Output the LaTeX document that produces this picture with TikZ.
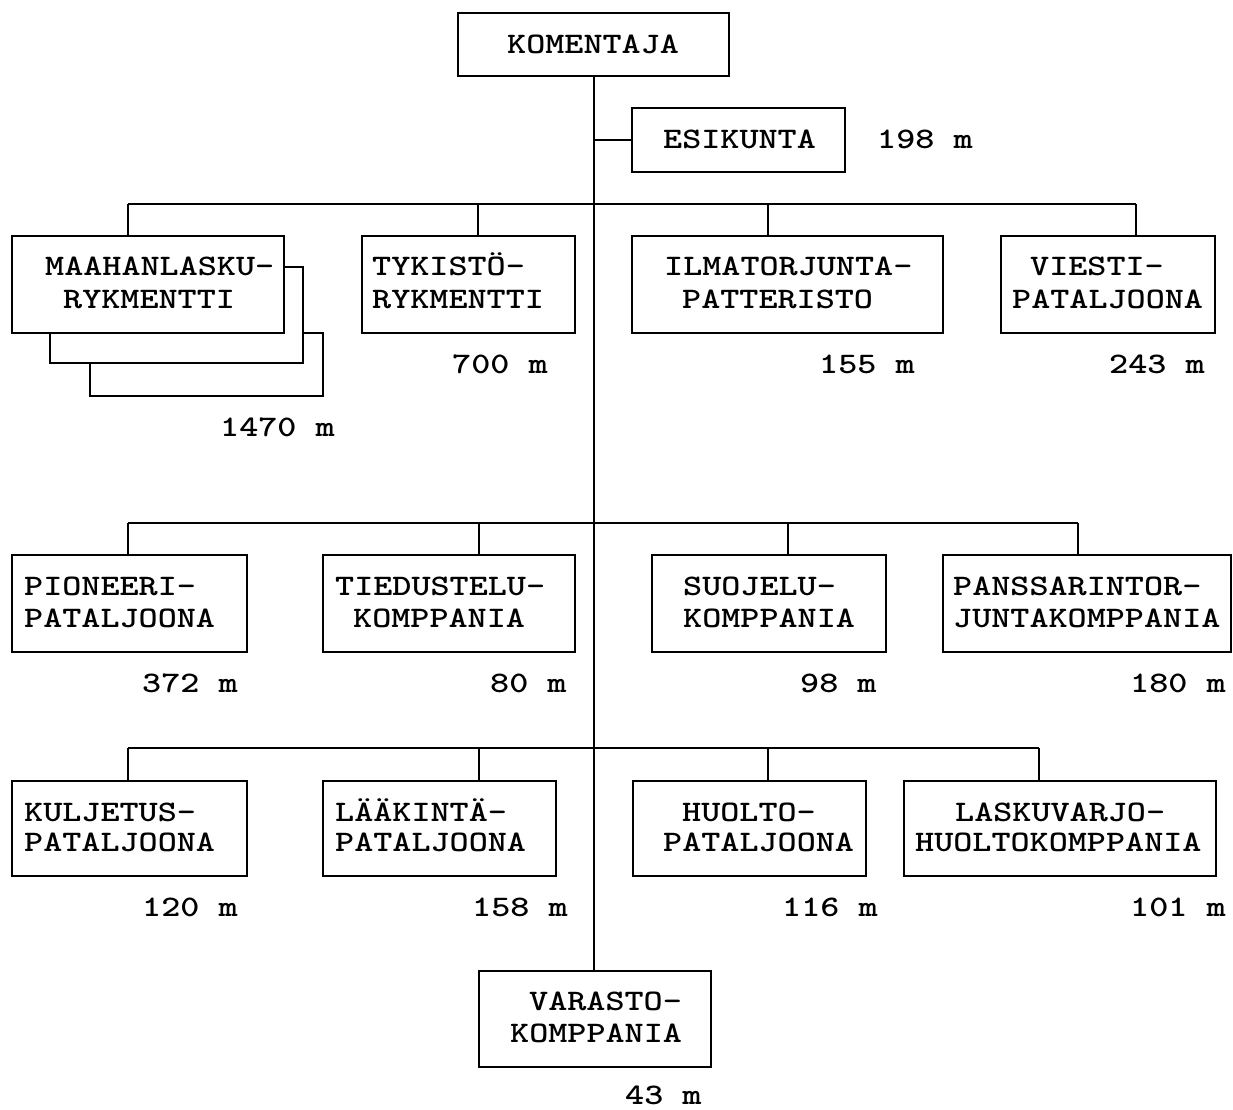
\documentclass[tikz,border=0pt]{standalone}
\usepackage{fontspec}
\newcommand\twfont{\ttfamily\bfseries\fontsize{29.8}{33}\selectfont}
\newcommand\T[1]{\scalebox{1.22}[1]{#1}}
\begin{document}
\begin{tikzpicture}[x=1pt,y=-1pt,
  bx/.style={draw, line width=2pt, fill=white, inner sep=0pt},
  ln/.style={line width=2pt},
  tx/.style={font=\twfont, anchor=base west, inner sep=0pt}]
\useasboundingbox (0,0) rectangle (1233,1109);
% ---- branch points ----
\coordinate (d11) at (128,204);
\coordinate (d12) at (478,204);
\coordinate (d13) at (768,204);
\coordinate (d14) at (1136,204);
\coordinate (d21) at (128,523);
\coordinate (d22) at (479,523);
\coordinate (d23) at (788,523);
\coordinate (d24) at (1078,523);
\coordinate (d31) at (128,748);
\coordinate (d32) at (479,748);
\coordinate (d33) at (768,748);
\coordinate (d34) at (1039,748);
% ---- boxes ----
\node[bx, minimum width=271pt, minimum height=63pt] (kom) at (593.5,44.5) {};
\node[bx, minimum width=213pt, minimum height=64pt] (esi) at (738.5,140) {};
\node[bx, minimum width=233pt, minimum height=63pt] (maa2) at (206.5,364.5) {};
\node[bx, minimum width=253pt, minimum height=96pt] (maa1) at (176.5,315) {};
\node[bx, minimum width=272pt, minimum height=97pt] (maa) at (148,284.5) {};
\node[bx, minimum width=213pt, minimum height=97pt] (tyk) at (468.5,284.5) {};
\node[bx, minimum width=311pt, minimum height=97pt] (ilm) at (787.5,284.5) {};
\node[bx, minimum width=214pt, minimum height=97pt] (vie) at (1108,284.5) {};
\node[bx, minimum width=235pt, minimum height=97pt] (pio) at (129.5,603.5) {};
\node[bx, minimum width=252pt, minimum height=97pt] (tie) at (449,603.5) {};
\node[bx, minimum width=234pt, minimum height=97pt] (suo) at (769,603.5) {};
\node[bx, minimum width=288pt, minimum height=97pt] (pan) at (1087,603.5) {};
\node[bx, minimum width=235pt, minimum height=95pt] (kul) at (129.5,828.5) {};
\node[bx, minimum width=233pt, minimum height=95pt] (laa) at (439.5,828.5) {};
\node[bx, minimum width=233pt, minimum height=95pt] (huo) at (749.5,828.5) {};
\node[bx, minimum width=312pt, minimum height=95pt] (las) at (1060,828.5) {};
\node[bx, minimum width=232pt, minimum height=96pt] (var) at (595,1019) {};
% ---- connectors ----
\draw[ln] (kom.south) -- (kom.south |- var.north);
\draw[ln] (kom.south |- esi.west) -- (esi.west);
\draw[ln] (d11) -- (d14);
\draw[ln] (d11) -- (d11 |- maa.north);
\draw[ln] (d12) -- (d12 |- tyk.north);
\draw[ln] (d13) -- (d13 |- ilm.north);
\draw[ln] (d14) -- (d14 |- vie.north);
\draw[ln] (d21) -- (d24);
\draw[ln] (d21) -- (d21 |- pio.north);
\draw[ln] (d22) -- (d22 |- tie.north);
\draw[ln] (d23) -- (d23 |- suo.north);
\draw[ln] (d24) -- (d24 |- pan.north);
\draw[ln] (d31) -- (d34);
\draw[ln] (d31) -- (d31 |- kul.north);
\draw[ln] (d32) -- (d32 |- laa.north);
\draw[ln] (d33) -- (d33 |- huo.north);
\draw[ln] (d34) -- (d34 |- las.north);
% ---- texts ----
\node[tx] (t-kom) at (507,53) {\T{KOMENTAJA}};
\node[tx] (t-esi) at (663,148) {\T{ESIKUNTA}};
\node[tx] (n-esi) at (877,148) {\T{198 m}};
\node[tx] (t-maa1) at (45,275) {\T{MAAHANLASKU-}};
\node[tx] (t-maa2) at (63,308) {\T{RYKMENTTI}};
\node[tx] (n-maa) at (220,436) {\T{1470 m}};
\node[tx] (t-tyk1) at (372,275) {\T{TYKISTÖ-}};
\node[tx] (t-tyk2) at (372,308) {\T{RYKMENTTI}};
\node[tx] (n-tyk) at (452,373) {\T{700 m}};
\node[tx] (t-ilm1) at (664,275) {\T{ILMATORJUNTA-}};
\node[tx] (t-ilm2) at (682,308) {\T{PATTERISTO}};
\node[tx] (n-ilm) at (819,373) {\T{155 m}};
\node[tx] (t-vie1) at (1030,275) {\T{VIESTI-}};
\node[tx] (t-vie2) at (1012,308) {\T{PATALJOONA}};
\node[tx] (n-vie) at (1109,373) {\T{243 m}};
\node[tx] (t-pio1) at (24,595) {\T{PIONEERI-}};
\node[tx] (t-pio2) at (24,627) {\T{PATALJOONA}};
\node[tx] (n-pio) at (142,692) {\T{372 m}};
\node[tx] (t-tie1) at (335,595) {\T{TIEDUSTELU-}};
\node[tx] (t-tie2) at (353,627) {\T{KOMPPANIA}};
\node[tx] (n-tie) at (490,692) {\T{80 m}};
\node[tx] (t-suo1) at (683,595) {\T{SUOJELU-}};
\node[tx] (t-suo2) at (683,627) {\T{KOMPPANIA}};
\node[tx] (n-suo) at (800,692) {\T{98 m}};
\node[tx] (t-pan1) at (953,595) {\T{PANSSARINTOR-}};
\node[tx] (t-pan2) at (953,627) {\T{JUNTAKOMPPANIA}};
\node[tx] (n-pan) at (1130,692) {\T{180 m}};
\node[tx] (t-kul1) at (24,821) {\T{KULJETUS-}};
\node[tx] (t-kul2) at (24,851) {\T{PATALJOONA}};
\node[tx] (n-kul) at (142,916) {\T{120 m}};
\node[tx] (t-laa1) at (335,821) {\T{LÄÄKINTÄ-}};
\node[tx] (t-laa2) at (335,851) {\T{PATALJOONA}};
\node[tx] (n-laa) at (472,916) {\T{158 m}};
\node[tx] (t-huo1) at (682,821) {\T{HUOLTO-}};
\node[tx] (t-huo2) at (663,851) {\T{PATALJOONA}};
\node[tx] (n-huo) at (782,916) {\T{116 m}};
\node[tx] (t-las1) at (955,821) {\T{LASKUVARJO-}};
\node[tx] (t-las2) at (915,851) {\T{HUOLTOKOMPPANIA}};
\node[tx] (n-las) at (1130,916) {\T{101 m}};
\node[tx] (t-var1) at (529,1010) {\T{VARASTO-}};
\node[tx] (t-var2) at (510,1042) {\T{KOMPPANIA}};
\node[tx] (n-var) at (625,1104) {\T{43 m}};
\end{tikzpicture}
\end{document}
